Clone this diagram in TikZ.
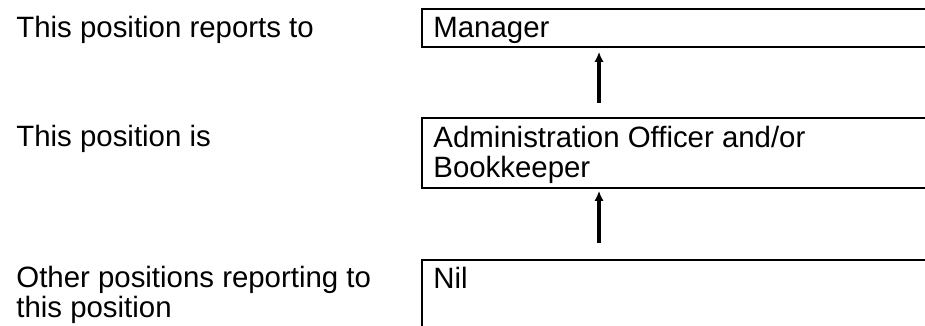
\documentclass[tikz,border=0pt]{standalone}
\usepackage{fontspec}
\setmainfont{Liberation Sans}
\usetikzlibrary{arrows.meta}

\begin{document}
\begin{tikzpicture}[x=0.5pt, y=-0.5pt,
    every node/.style={font=\fontsize{14.7}{15}\selectfont},
    txt/.style={anchor=base west, inner sep=0pt, align=left},
    box/.style={draw, line width=0.9pt, anchor=north west, inner sep=0pt, minimum width=262pt},
    arr/.style={-{Latex[length=5pt, width=4.6pt]}, line width=1.7pt}]
    \clip (0,0) rectangle (925,326);

    \node (q1) at (16,38) [txt] {This position reports to};
    \node (manager) at (421,8) [box, minimum height=19pt] {};
    \node (managertxt) at (433,38) [txt] {Manager};

    \node (q2) at (16,147) [txt] {This position is};
    \node (officer) at (421,117) [box, minimum height=35pt] {};
    \node (officertxt) at (433,177) [txt] {Administration Officer and/or\\Bookkeeper};
    \draw[arr] ([xshift=89pt, yshift=7pt]officer.north west) -- ([xshift=89pt, yshift=-2pt]manager.south west);

    \node (q3) at (16,317) [txt] {Other positions reporting to\\this position};
    \node (nil) at (421,259) [box, minimum height=45pt] {};
    \node (niltxt) at (433,288) [txt] {Nil};
    \draw[arr] ([xshift=89pt, yshift=8pt]nil.north west) -- ([xshift=89pt, yshift=-1pt]officer.south west);
\end{tikzpicture}
\end{document}
